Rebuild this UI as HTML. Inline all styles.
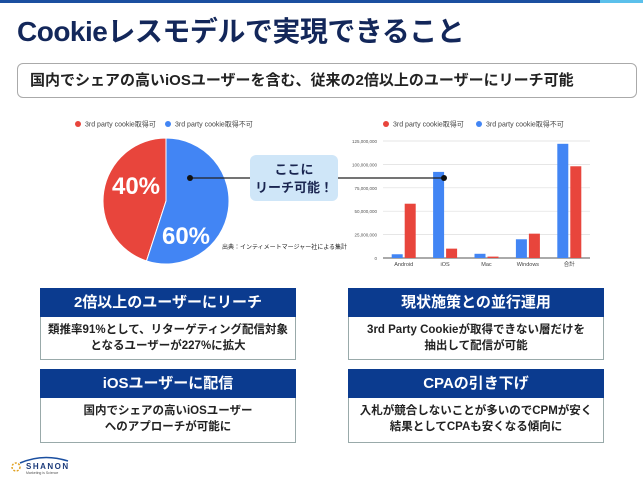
<!DOCTYPE html>
<html><head><meta charset="utf-8"><style>
body{margin:0;width:643px;height:482px;position:relative;background:#fff;overflow:hidden;font-family:"Liberation Sans","Noto Sans CJK JP",sans-serif;}
.abs{position:absolute;}
.hdr{background:#0b3b8f;color:#fff;font-weight:bold;font-size:15px;text-align:center;line-height:29px;}
.bdy{border:1px solid #9aa;border-top:none;box-sizing:border-box;color:#222;font-weight:bold;font-size:11.5px;text-align:center;line-height:16px;padding-top:5px;}
</style></head><body>
<div class="abs" style="left:0;top:0;width:643px;height:3px;background:#1b4fa0"></div>
<div class="abs" style="left:600px;top:0;width:43px;height:3px;background:#5bc0eb"></div>
<div class="abs" style="left:17px;top:10px;font-size:28px;font-weight:bold;color:#13275a;letter-spacing:-0.5px">Cookieレスモデルで実現できること</div>
<div class="abs" style="left:17px;top:63px;width:620px;height:35px;box-sizing:border-box;border:1px solid #aaa;border-radius:6px;font-size:15px;font-weight:bold;color:#222;line-height:33px;padding-left:12px">国内でシェアの高いiOSユーザーを含む、従来の2倍以上のユーザーにリーチ可能</div>

<svg class="abs" style="left:0;top:0" width="643" height="482">
<g id="pie"></g>
<g id="bars"></g>
<line x1="190" y1="178" x2="444" y2="178" stroke="#222" stroke-width="1.2"/>
<circle cx="190" cy="178" r="3" fill="#111"/>
<circle cx="444" cy="178" r="3" fill="#111"/>
<rect x="250" y="155" width="88" height="46" rx="6" fill="#cfe6f8"/>
<text x="294" y="174" text-anchor="middle" font-size="13" font-weight="bold" fill="#1a2550">ここに</text>
<text x="294" y="192" text-anchor="middle" font-size="13" font-weight="bold" fill="#1a2550">リーチ可能！</text>
<text x="222" y="249" font-size="6" fill="#222">出典：インティメートマージャー社による集計</text>
</svg>

<div class="abs hdr" style="left:40px;top:288px;width:256px;height:29px">2倍以上のユーザーにリーチ</div>
<div class="abs bdy" style="left:40px;top:317px;width:256px;height:43px">類推率91%として、リターゲティング配信対象<br>となるユーザーが227%に拡大</div>
<div class="abs hdr" style="left:40px;top:369px;width:256px;height:29px">iOSユーザーに配信</div>
<div class="abs bdy" style="left:40px;top:398px;width:256px;height:45px">国内でシェアの高いiOSユーザー<br>へのアプローチが可能に</div>
<div class="abs hdr" style="left:348px;top:288px;width:256px;height:29px">現状施策との並行運用</div>
<div class="abs bdy" style="left:348px;top:317px;width:256px;height:43px">3rd Party Cookieが取得できない層だけを<br>抽出して配信が可能</div>
<div class="abs hdr" style="left:348px;top:369px;width:256px;height:29px">CPAの引き下げ</div>
<div class="abs bdy" style="left:348px;top:398px;width:256px;height:45px">入札が競合しないことが多いのでCPMが安く<br>結果としてCPAも安くなる傾向に</div>

<div class="abs" style="left:8px;top:455px;width:65px;height:22px">
<svg width="65" height="22"><path d="M12 8 Q35 -2 60 6" stroke="#1b4fa0" stroke-width="1.5" fill="none"/><circle cx="8" cy="12" r="4" fill="none" stroke="#e0a020" stroke-dasharray="2 1.5" stroke-width="1.5"/></svg>
<div class="abs" style="left:18px;top:7px;font-size:8px;font-weight:bold;color:#1b3a7a;letter-spacing:1.5px">SHANON</div>
<div class="abs" style="left:18px;top:16px;font-size:3.5px;color:#555">Marketing is Science</div>
</div>

<script>
const pieLabels=["3rd party cookie取得可","3rd party cookie取得不可"];
const pieValues=[45,55];
const pieText=["40%","60%"];
const pieColors=["#e8453c","#4285f4"];

const cats=["Android","iOS","Mac","Windows","合計"];
const redVals=[58,10,1.5,26,98];
const blueVals=[4,92,4.5,20,122];
const yTicks=[0,25,50,75,100,125];
const yTickLabels=["0","25,000,000","50,000,000","75,000,000","100,000,000","125,000,000"];

const NS="http://www.w3.org/2000/svg";
function mk(tag,attrs,parent,txt){const e=document.createElementNS(NS,tag);for(const k in attrs)e.setAttribute(k,attrs[k]);if(txt!==undefined)e.textContent=txt;parent.appendChild(e);return e;}

// pie
const pie=document.getElementById('pie');
const cx=166,cy=201,r=63;
const tot=pieValues.reduce((a,b)=>a+b,0);
// red ends at top going counterclockwise from start; draw red from angle -(v0) to 0 (clockwise degrees from top)
let starts=[360-pieValues[0]/tot*360,0];
let ends=[360,pieValues[1]/tot*360];
function pt(a){const rad=a*Math.PI/180;return [cx+r*Math.sin(rad),cy-r*Math.cos(rad)];}
for(let i=0;i<2;i++){
  const [x1,y1]=pt(starts[i]),[x2,y2]=pt(ends[i]);
  const large=(ends[i]-starts[i])>180?1:0;
  const p=mk('path',{d:`M${cx},${cy} L${x1},${y1} A${r},${r} 0 ${large} 1 ${x2},${y2} Z`,fill:pieColors[i],stroke:'#fff','stroke-width':1},pie);
  
  
}
const t1=mk('text',{x:136,y:194,'text-anchor':'middle','font-size':24,'font-weight':'bold',fill:'#fff'},pie,pieText[0]);


const t2=mk('text',{x:186,y:244,'text-anchor':'middle','font-size':24,'font-weight':'bold',fill:'#fff'},pie,pieText[1]);


[[78,0],[168,1]].forEach(([x,i])=>{
  const c=mk('circle',{cx:x,cy:124,r:3,fill:pieColors[i]},pie);
  
  
  const t=mk('text',{x:x+7,y:126.5,'font-size':7,fill:'#444'},pie,pieLabels[i]);
  
  
});

// bars
const bars=document.getElementById('bars');
const x0=383,x1=590,yb=258,yt=141;
const yS=v=>yb-(v/125)*(yb-yt);
const band=(x1-x0)/cats.length;
yTicks.forEach((v,i)=>{
  const l=mk('line',{x1:x0,x2:x1,y1:yS(v),y2:yS(v),stroke:i==0?'#555':'#ddd','stroke-width':i==0?1:0.7},bars);
  
  
  const t=mk('text',{x:377,y:yS(v)+2,'text-anchor':'end','font-size':4.5,fill:'#555'},bars,yTickLabels[i]);
  
  
});
const bw=11;
cats.forEach((c,i)=>{
  const mid=x0+band*(i+0.5);
  const b=mk('rect',{x:mid-bw-1,y:yS(blueVals[i]),width:bw,height:yb-yS(blueVals[i]),fill:'#4285f4'},bars);
  
  
  const rr=mk('rect',{x:mid+1,y:yS(redVals[i]),width:bw,height:yb-yS(redVals[i]),fill:'#e8453c'},bars);
  
  
  const t=mk('text',{x:mid,y:266,'text-anchor':'middle','font-size':5.5,fill:'#444'},bars,c);
  
  
});
[[386,0],[479,1]].forEach(([x,i])=>{
  const c=mk('circle',{cx:x,cy:124,r:3,fill:pieColors[i]},bars);
  
  
  const t=mk('text',{x:x+7,y:126.5,'font-size':7,fill:'#444'},bars,pieLabels[i]);
  
  
});
</script>
</body></html>
